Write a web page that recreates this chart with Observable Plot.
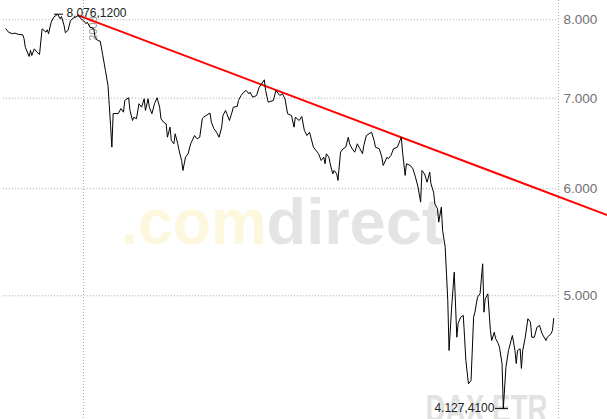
<!DOCTYPE html>
<html><head><meta charset="utf-8">
<script src="https://cdn.jsdelivr.net/npm/d3@7"></script>
<script src="https://cdn.jsdelivr.net/npm/@observablehq/plot@0.6"></script>
<style>
html,body{margin:0;padding:0;background:#fff;overflow:hidden;}
</style>
</head><body><div id="chart"></div>
<script>
// Days relative to 2008-01-01 (calendar days), DAX closing values
const days = [
 -60,-58,-55,-53,-50,-47,-46,-45,-42,-41,
 -40,-38,-36,-34,-32,-29,-28,-27,-25,-23,
 -22,-20,-18,-17,-15,-14,-12,-10,-8,-6,
 -4,-2,0,2,3,5,8,9,11,13,
 15,17,19,20,21,22,23,27,29,31,
 32,35,36,38,39,41,43,45,47,48,
 50,51,53,55,57,59,60,62,64,65,
 67,68,70,71,73,74,76,77,79,81,
 83,86,88,90,92,93,95,98,99,101,
 103,105,107,108,110,111,113,115,116,119,
 120,122,124,126,128,129,131,134,136,138,
 140,141,143,147,149,152,154,156,158,161,
 163,164,167,169,171,173,175,176,178,180,
 182,184,186,187,188,190,191,193,194,196,
 197,199,201,203,205,206,208,210,212,214,
 216,217,219,221,223,225,226,229,231,232,
 235,236,238,240,243,245,246,247,249,250,
 253,255,257,259,261,262,264,266,268,269,
 271,272,274,275,277,278,280,281,282,283,
 285,287,289,290,292,294,295,296,298,300,
 302,303,305,307,309,310,311,313,315,316,
 318,319,321,322,324,325,327,329,331,332,
 334,335,336,338,339,340,342,344,346,347,
 349,351,353,355,358,359,362,363,364
];
const closes = [
 7878,7833,7812,7820,7802,7798,7749,7635,7515,7593,
 7528,7614,7571,7541,7878,7833,7865,7812,7967,8036,
 8049,8076.12,8014,8045,7923,7825,7856,7990,8022,8036,
 8059,8014,7990,7946,7967,7900,7878,7766,7723,7714,
 7528,7338,7153,6914,6682,6440,6820,6820,6878,6835,
 6973,7005,6855,6739,6777,6759,6934,6894,6993,6855,
 6993,6894,6817,6934,7005,6894,6759,6720,6702,6550,
 6663,6514,6477,6588,6477,6404,6295,6189,6331,6368,
 6477,6569,6532,6550,6759,6777,6797,6824,6720,6645,
 6606,6550,6663,6797,6855,6817,6739,6835,6894,6902,
 6973,7032,7072,7093,7053,7072,7012,7032,7132,7174,
 7223,7093,6953,6973,7093,7032,7053,6993,6817,6797,
 6663,6777,6739,6785,6626,6569,6606,6550,6440,6404,
 6368,6295,6331,6260,6368,6331,6260,6154,6189,6154,
 6085,6385,6422,6440,6550,6477,6422,6385,6477,6422,
 6368,6458,6569,6588,6606,6514,6440,6422,6331,6242,
 6331,6314,6349,6422,6440,6514,6550,6385,6137,6260,
 6242,6207,6119,6016,5864,6189,6154,6067,6171,6050,
 5964,5848,5798,5668,5814,5588,5431,5191,4960,4555,
 4904,5205,4659,4769,4821,4835,4659,4478,4304,4328,
 4821,4862,4988,5017,5280,4862,4974,5017,4713,4633,
 4699,4649,4610,4581,4455,4127.41,4427,4555,4633,4673,
 4555,4455,4555,4568,4418,4555,4659,4808,4780,4659,
 4659,4739,4753,4687,4633,4659,4687,4713,4810
];
const yTicks = [5000, 6000, 7000, 8000];
const yearLabel = "2008";
const maxValue = 8076.12, maxLabel = "8.076,1200";
const minValue = 4127.41, minLabel = "4.127,4100";
const trendDays = [-4, 406];
const trendValues = [8060, 5734];
const wmCom = ".com", wmDirect = "direct", wmIndex = "DAX ETR";

const base = Date.UTC(2008, 0, 1);
const toDate = d => new Date(base + d * 864e5);
const data = days.map((d, i) => ({date: toDate(d), close: closes[i]}));
const trend = trendDays.map((d, i) => ({date: toDate(d), close: trendValues[i]}));

const de = d3.formatLocale({decimal: ",", thousands: ".", grouping: [3], currency: ["", "€"]});
const fmt = de.format(",");

const xDomain = [toDate(-64.2), toDate(367.7)];
const grid = {stroke: "#a8a8a8", strokeDasharray: "1,2", strokeWidth: 1};

const chart = Plot.plot({
  width: 607, height: 419,
  marginLeft: 0, marginRight: 49, marginTop: 0, marginBottom: 0,
  style: {background: "#fff", fontFamily: "'Liberation Sans', Arial, sans-serif", fontSize: "13.5px", color: "#707070", overflow: "visible"},
  x: {type: "utc", domain: xDomain, axis: null},
  y: {type: "log", domain: [4050, 8267], axis: "right", ticks: yTicks, tickFormat: fmt, tickSize: 0, tickPadding: 5, label: null},
  marks: [
    Plot.text([wmCom], {frameAnchor: "top-left", dx: 266, dy: 243, textAnchor: "end", lineAnchor: "bottom", fontSize: 64, fontWeight: "bold", fill: "#fdf7de"}),
    Plot.text([wmDirect], {frameAnchor: "top-left", dx: 266, dy: 243, textAnchor: "start", lineAnchor: "bottom", fontSize: 64, fontWeight: "bold", fill: "#e4e4e4"}),
    Plot.text([wmIndex], {frameAnchor: "top-left", dx: 425, dy: 421, textAnchor: "start", lineAnchor: "bottom", fontSize: 38, fontWeight: "bold", fill: "#e2e2e2"}),
    Plot.ruleY(yTicks, {x1: toDate(-62), x2: xDomain[1], ...grid}),
    Plot.ruleX([toDate(0), xDomain[1]], {...grid}),
    Plot.text([yearLabel], {x: toDate(0), frameAnchor: "top", dx: 6, dy: 28, rotate: -90, fontSize: 11, fill: "#999"}),
    Plot.line(trend, {x: "date", y: "close", stroke: "#ff0000", strokeWidth: 2}),
    Plot.line(data, {x: "date", y: "close", stroke: "#000", strokeWidth: 1}),
    Plot.ruleY([maxValue], {x1: toDate(-22.4), x2: toDate(-15.5), stroke: "#000"}),
    Plot.ruleY([minValue], {x1: toDate(318.9), x2: toDate(329), stroke: "#000"}),
    Plot.text([maxLabel], {x: toDate(-15.5), y: maxValue, dx: 3, dy: -1, textAnchor: "start", fontSize: 12, fill: "#222"}),
    Plot.text([minLabel], {x: toDate(318.9), y: minValue, dx: -1, textAnchor: "end", fontSize: 12, fill: "#222"})
  ]
});
document.getElementById("chart").appendChild(chart);
// fit watermark widths to the reference
const fit = {".com": 146, "direct": 177, "DAX ETR": 122};
d3.select(chart).selectAll("text").each(function() {
  const t = this.textContent;
  if (fit[t]) { this.setAttribute("textLength", fit[t]); this.setAttribute("lengthAdjust", "spacingAndGlyphs"); }
});
</script>
</body></html>
